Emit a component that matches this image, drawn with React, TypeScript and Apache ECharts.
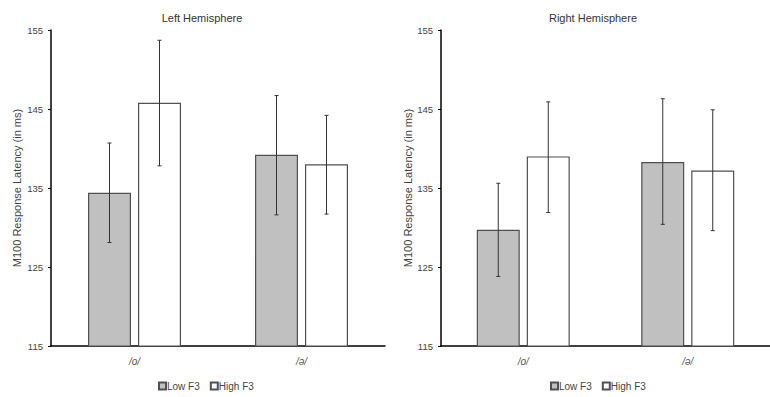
import React, { useEffect, useRef } from "react";
import * as echarts from "echarts";

const categories = ["/o/", "/ə/"];
const seriesNames = ["Low F3", "High F3"];
const panelTitles = ["Left Hemisphere", "Right Hemisphere"];
const yTicks = [115, 125, 135, 145, 155];

// Left hemisphere
const leftLow = [134.4, 139.2];
const leftLowUpper = [140.7, 146.7];
const leftLowLower = [128.1, 131.6];
const leftHigh = [145.8, 138.0];
const leftHighUpper = [153.7, 144.2];
const leftHighLower = [137.8, 131.7];

// Right hemisphere
const rightLow = [129.7, 138.3];
const rightLowUpper = [135.6, 146.3];
const rightLowLower = [123.8, 130.4];
const rightHigh = [139.0, 137.2];
const rightHighUpper = [145.9, 144.9];
const rightHighLower = [131.9, 129.6];

const BAR_W = 43;
const BAR_GAP = 7;
const FONT = "Liberation Sans, Arial, sans-serif";

export default function App() {
  const ref = useRef<HTMLDivElement>(null);
  useEffect(() => {
    if (!ref.current) return;
    const chart = echarts.init(ref.current, null, { renderer: "svg" });

    const panels = [
      { low: leftLow, lowU: leftLowUpper, lowL: leftLowLower, high: leftHigh, highU: leftHighUpper, highL: leftHighLower },
      { low: rightLow, lowU: rightLowUpper, lowL: rightLowLower, high: rightHigh, highU: rightHighUpper, highL: rightHighLower },
    ];
    const grids = [
      { left: 51, top: 30, width: 334, height: 316 },
      { left: 441, top: 30, width: 334, height: 316 },
    ];
    const titleX = [197, 588];
    const legendX = [153, 545];
    const nameGaps = [29, 25];

    const series: any[] = [];
    panels.forEach((p, gi) => {
      series.push({
        name: seriesNames[0],
        type: "bar",
        xAxisIndex: gi,
        yAxisIndex: gi,
        data: p.low,
        barWidth: BAR_W,
        barGap: (BAR_GAP / BAR_W) * 100 + "%",
        itemStyle: { color: "#c0c0c0", borderColor: "#505050", borderWidth: 1.2 },
      });
      series.push({
        name: seriesNames[1],
        type: "bar",
        xAxisIndex: gi,
        yAxisIndex: gi,
        data: p.high,
        barWidth: BAR_W,
        barGap: (BAR_GAP / BAR_W) * 100 + "%",
        itemStyle: { color: "#ffffff", borderColor: "#505050", borderWidth: 1.2 },
      });
      const errData: any[] = [];
      categories.forEach((_, ci) => {
        errData.push([ci, p.lowL[ci], p.lowU[ci], 0]);
        errData.push([ci, p.highL[ci], p.highU[ci], 1]);
      });
      series.push({
        type: "custom",
        xAxisIndex: gi,
        yAxisIndex: gi,
        data: errData,
        z: 10,
        silent: true,
        renderItem: (params: any, api: any) => {
          const ci = api.value(0);
          const lo = api.coord([ci, api.value(1)]);
          const hi = api.coord([ci, api.value(2)]);
          const side = api.value(3) === 0 ? -1 : 1;
          const x = lo[0] + side * (BAR_W + BAR_GAP) / 2;
          const cap = 2;
          const style = { stroke: "#333", lineWidth: 1 };
          return {
            type: "group",
            children: [
              { type: "line", shape: { x1: x, y1: lo[1], x2: x, y2: hi[1] }, style },
              { type: "line", shape: { x1: x - cap, y1: lo[1], x2: x + cap, y2: lo[1] }, style },
              { type: "line", shape: { x1: x - cap, y1: hi[1], x2: x + cap, y2: hi[1] }, style },
            ],
          };
        },
      });
    });

    chart.setOption({
      animation: false,
      textStyle: { fontFamily: FONT },
      title: panelTitles.map((t, i) => ({
        text: t,
        left: titleX[i],
        top: 7,
        textAlign: "center",
        textStyle: { fontSize: 11, fontWeight: "normal", color: "#333", fontFamily: FONT },
      })),
      legend: [0, 1].map((i) => ({
        data: seriesNames,
        left: legendX[i],
        top: 376,
        itemWidth: 7,
        itemHeight: 7,
        itemGap: 10,
        icon: "rect",
        textStyle: { fontSize: 10, color: "#444", fontFamily: FONT, padding: [0, 0, 0, -4] },
      })),
      grid: grids,
      xAxis: grids.map((_, i) => ({
        type: "category",
        gridIndex: i,
        data: categories,
        axisLine: { lineStyle: { color: "#000", width: 1.5 } },
        axisTick: { inside: true, length: 3, lineStyle: { color: "#000" } },
        axisLabel: { fontSize: 10, color: "#555", fontStyle: "italic", margin: 10, fontFamily: FONT },
      })),
      yAxis: grids.map((_, i) => ({
        type: "value",
        gridIndex: i,
        min: yTicks[0],
        max: yTicks[yTicks.length - 1],
        interval: 10,
        name: "M100 Response Latency (in ms)",
        nameLocation: "middle",
        nameGap: nameGaps[i],
        nameTextStyle: { fontSize: 11, color: "#444", fontFamily: FONT },
        axisLine: { show: true, lineStyle: { color: "#000", width: 1.5 } },
        axisTick: { show: true, length: 3, lineStyle: { color: "#000" } },
        splitLine: { show: false },
        axisLabel: { fontSize: 9.5, color: "#444", margin: 8, fontFamily: FONT },
      })),
      series,
    });
    return () => chart.dispose();
  }, []);
  return <div ref={ref} style={{ width: 770, height: 397, position: "absolute", left: 0, top: 0 }} />;
}
